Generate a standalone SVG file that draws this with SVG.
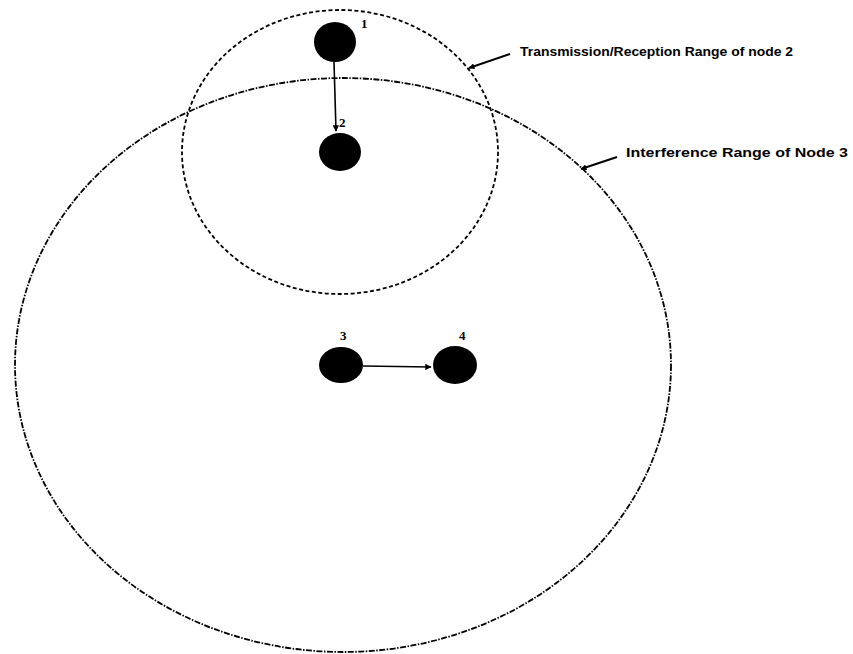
<svg xmlns="http://www.w3.org/2000/svg" width="853" height="654" viewBox="0 0 853 654">
  <style>
    .range-tx { fill: none; stroke: #000; stroke-width: 1.8; stroke-dasharray: 4 2.5; }
    .range-if { fill: none; stroke: #000; stroke-width: 1.8; stroke-dasharray: 6 1.5 1.5 1.5; }
    .node { fill: #000; }
    .nlabel { font-family: "Liberation Serif", "Times New Roman", serif; font-weight: bold; font-size: 13px; fill: #000; }
    .caption { font-family: "Liberation Sans", Arial, sans-serif; font-weight: bold; font-size: 13px; fill: #000; }
    .link { stroke: #000; stroke-width: 1.6; fill: none; }
    .leader { stroke: #000; stroke-width: 2; fill: none; }
  </style>
  <defs>
    <marker id="arrow" viewBox="0 0 10 10" refX="9" refY="5" markerWidth="4" markerHeight="4" orient="auto" markerUnits="strokeWidth">
      <path d="M0,0 L10,5 L0,10 z" fill="#000"/>
    </marker>
    <marker id="tick" viewBox="0 0 10 10" refX="9" refY="5" markerWidth="3" markerHeight="3" orient="auto" markerUnits="strokeWidth">
      <path d="M0,0 L10,5 L0,10 z" fill="#000"/>
    </marker>
  </defs>
  <rect width="853" height="654" fill="#fff"/>

  <!-- range boundaries -->
  <g id="ranges">
    <ellipse id="range-node2" class="range-tx" cx="340" cy="152" rx="158" ry="142"/>
    <ellipse id="range-node3" class="range-if" cx="343" cy="365" rx="328" ry="287"/>
  </g>

  <!-- connectors -->
  <g id="connectors">
    <line class="link" x1="334" y1="62" x2="336" y2="131" marker-end="url(#arrow)"/>
    <line class="link" x1="363" y1="366" x2="431" y2="367" marker-end="url(#arrow)"/>
    <line class="leader" x1="510" y1="54" x2="469" y2="68" marker-end="url(#tick)"/>
    <line class="leader" x1="617" y1="157" x2="581" y2="169" marker-end="url(#tick)"/>
  </g>

  <!-- nodes -->
  <g id="node1">
    <ellipse class="node" cx="335" cy="42" rx="21" ry="20"/>
    <text class="nlabel" x="361" y="28">1</text>
  </g>
  <g id="node2">
    <ellipse class="node" cx="340" cy="152" rx="21" ry="19"/>
    <text class="nlabel" x="339" y="127">2</text>
  </g>
  <g id="node3">
    <ellipse class="node" cx="341" cy="365" rx="22" ry="18"/>
    <text class="nlabel" x="340" y="340">3</text>
  </g>
  <g id="node4">
    <ellipse class="node" cx="455" cy="365" rx="22" ry="19"/>
    <text class="nlabel" x="459" y="340">4</text>
  </g>

  <!-- range captions -->
  <g id="caption-tx">
    <text class="caption" x="520" y="56" textLength="273" lengthAdjust="spacingAndGlyphs">Transmission/Reception Range of node 2</text>
  </g>
  <g id="caption-if">
    <text class="caption" x="626" y="157" textLength="222" lengthAdjust="spacingAndGlyphs">Interference Range of Node 3</text>
  </g>
</svg>
